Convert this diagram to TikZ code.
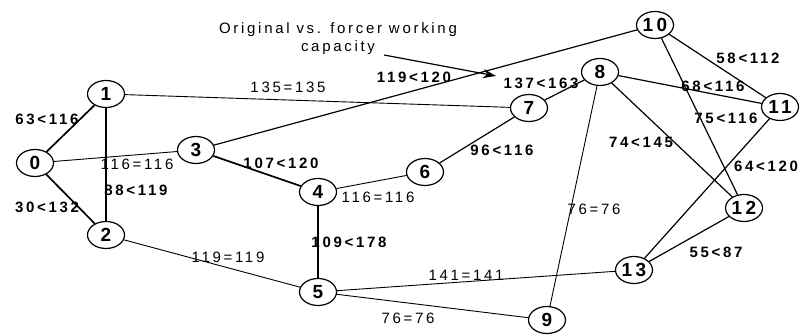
\documentclass[tikz,border=0pt]{standalone}
\usepackage{fontspec}
\setmainfont{Liberation Sans}
\newfontfamily\labfont[LetterSpace=18]{Liberation Sans}
\usetikzlibrary{shapes.geometric,arrows.meta}

\begin{document}
\begin{tikzpicture}[x=1pt,y=-1pt,
  vtx/.style={ellipse,draw,line width=1.2pt,minimum width=37pt,minimum height=27pt,
    inner xsep=-6pt,inner ysep=0pt,font=\labfont\fontsize{19}{19}\selectfont\bfseries},
  lbl/.style={inner sep=0pt,font=\labfont\fontsize{15}{15}\selectfont},
  blbl/.style={lbl,font=\labfont\fontsize{15}{15}\selectfont\bfseries},
  edge/.style={line width=1.2pt},
  thinedge/.style={line width=0.9pt},
  boldedge/.style={line width=1.7pt}]
\useasboundingbox (0,0) rectangle (802,336);

% vertices
\node[vtx] (n0)  at (35,163)  {0};
\node[vtx] (n1)  at (106,94)  {1};
\node[vtx] (n2)  at (106,235) {2};
\node[vtx] (n3)  at (196,150) {3};
\node[vtx] (n4)  at (318,192) {4};
\node[vtx] (n5)  at (318,292) {5};
\node[vtx] (n6)  at (425,172) {6};
\node[vtx] (n7)  at (529,108) {7};
\node[vtx] (n8)  at (600,72)  {8};
\node[vtx] (n9)  at (547,320) {9};
\node[vtx] (n10) at (655,25)  {10};
\node[vtx] (n11) at (780,107) {11};
\node[vtx] (n12) at (744,208) {12};
\node[vtx] (n13) at (634,270) {13};

% links
\draw[boldedge] (n0) -- (n1);
\draw[boldedge] (n0) -- (n2);
\draw[edge] (n1) -- (n2);
\draw[thinedge] (n0) -- (n3);
\draw[thinedge] (n1) -- (n7);
\draw[thinedge] (n2) -- (n5);
\draw[boldedge] (n3) -- (n4);
\draw[edge] (n3) -- (n10);
\draw[thinedge] (n4) -- (n6);
\draw[boldedge] (n4) -- (n5);
\draw[edge] (n6) -- (n7);
\draw[edge] (n7) -- (n8);
\draw[thinedge] (n5) -- (n13);
\draw[thinedge] (n5) -- (n9);
\draw[thinedge] (n8) -- (n9);
\draw[edge] (n8) -- (n11);
\draw[edge] (n8) -- (n12);
\draw[edge] (n10) -- (n11);
\draw[edge] (n10) -- (n12);
\draw[edge] (n11) -- (n13);
\draw[edge] (n12) -- (n13);

% link labels
\node[blbl] (l01)   at (47,119)  {63<116};
\node[blbl] (l02)   at (47,207)  {30<132};
\node[lbl]  (l03)   at (137,164) {116=116};
\node[blbl] (l12)   at (136,190) {88<119};
\node[lbl]  (l25)   at (228,257) {119=119};
\node[lbl]  (l17)   at (288,87)  {135=135};
\node[blbl] (l310)  at (414,77)  {119<120};
\node[blbl] (l34)   at (281,163) {107<120};
\node[lbl]  (l46)   at (378,197) {116=116};
\node[blbl] (l45)   at (349,242) {109<178};
\node[blbl] (l67)   at (502,150) {96<116};
\node[lbl]  (l513)  at (466,275) {141=141};
\node[lbl]  (l59)   at (408,318) {76=76};
\node[lbl]  (l89)   at (594,209) {76=76};
\node[blbl] (l78)   at (541,83)  {137<163};
\node[blbl] (l812)  at (641,142) {74<145};
\node[blbl] (l1011) at (748,58)  {58<112};
\node[blbl] (l811)  at (713,86)  {68<116};
\node[blbl] (l1012) at (726,118) {75<116};
\node[blbl] (l1113) at (766,166) {64<120};
\node[blbl] (l1213) at (716,252) {55<87};

% annotation
\node[lbl,align=center] (note) at (338,39) {Original vs. forcer working\\[3pt]capacity};
\coordinate (notefrom) at (384,55);
\coordinate (noteto) at (496,76);
\draw[line width=1.2pt,-{Stealth[length=13pt,width=9pt]}] (notefrom) -- (noteto);
\end{tikzpicture}
\end{document}
